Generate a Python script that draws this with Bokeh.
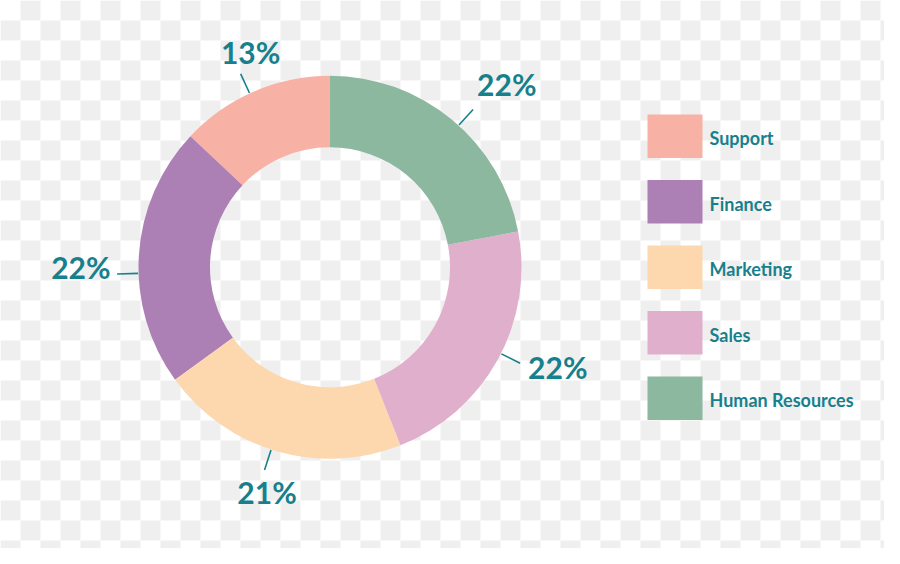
import numpy as np
from bokeh.plotting import figure
from bokeh.models import Range1d, ColumnDataSource
from bokeh.core.properties import value
from bokeh.embed import file_html
from bokeh.resources import INLINE

# ---- data ----
categories = ["Support", "Finance", "Marketing", "Sales", "Human Resources"]
shares = [13, 22, 21, 22, 22]
colors = ["#F8B2A5", "#AD80B5", "#FDD8AE", "#E0AFCB", "#8DB8A0"]
labels = [f"{v}%" for v in shares]

# ---- style / layout ----
TEAL = "#17808C"
FONT = "Lato"
IMG_H = 564
FIG_W, FIG_H = 884, 548
CX, CY_PX = 329.5, 266.8          # donut centre in image pixels
R_OUT, R_IN = 191.5, 120.0
LEAD_IN, LEAD_OUT = 192.0, 213.0
label_nudge_deg = [1.4, 5.4, -1.7, 2.0, -2.6]
label_offset_px = [(10, -3.5), (-1.5, -7), (2.5, -1), (3, 4), (-1, -8)]  # (dx, dy down)


def ydat(py):
    return IMG_H - py


p = figure(width=FIG_W, height=FIG_H,
           x_range=Range1d(0, FIG_W),
           y_range=Range1d(IMG_H - FIG_H, IMG_H),
           output_backend="svg", toolbar_location=None,
           x_axis_location=None, y_axis_location=None,
           min_border=0, background_fill_color="white",
           border_fill_color="white")
p.outline_line_color = None
p.grid.visible = False

# checkerboard background (transparency pattern)
sq = 20
ii, jj = np.meshgrid(np.arange(FIG_W // sq + 2), np.arange(IMG_H // sq + 2))
mask = (ii + jj) % 2 == 1
lefts = (ii[mask] * sq).astype(float)
tops = (jj[mask] * sq).astype(float)
p.quad(left=lefts, right=lefts + sq, top=ydat(tops), bottom=ydat(tops + sq),
       fill_color="#EFEFEF", line_color=None)

# donut (anticlockwise from 12 o'clock, in legend order)
frac = np.array(shares, dtype=float) / sum(shares)
ends = np.pi / 2 + 2 * np.pi * np.cumsum(frac)
starts = ends - 2 * np.pi * frac
src = ColumnDataSource(dict(start=starts, end=ends, color=colors))
cy = ydat(CY_PX)
p.annular_wedge(x=CX, y=cy, inner_radius=R_IN, outer_radius=R_OUT,
                start_angle="start", end_angle="end", color="color",
                line_color=None, source=src)

# leader lines and percentage labels
mids = (starts + ends) / 2 + np.radians(label_nudge_deg)
x0s, y0s, x1s, y1s, tx, ty, al, bl = [], [], [], [], [], [], [], []
pad = 5
for a, (ox, oy) in zip(mids, label_offset_px):
    c, s = np.cos(a), np.sin(a)
    x0s.append(CX + LEAD_IN * c); y0s.append(cy + LEAD_IN * s)
    ex, ey = CX + LEAD_OUT * c, cy + LEAD_OUT * s
    x1s.append(ex); y1s.append(ey)
    if c > 0.6:
        align, dx = "left", pad
    elif c < -0.6:
        align, dx = "right", -pad
    else:
        align, dx = "center", 0
    if s > 0.6:
        base, dy = "bottom", 0
    elif s < -0.6:
        base, dy = "top", -pad
    else:
        base, dy = "middle", 0
    tx.append(ex + dx + ox); ty.append(ey + dy - oy); al.append(align); bl.append(base)

p.segment(x0=x0s, y0=y0s, x1=x1s, y1=y1s, line_color=TEAL, line_width=1.6)
lab_src = ColumnDataSource(dict(x=tx, y=ty, t=labels, a=al, b=bl))
p.text(x="x", y="y", text="t", text_align="a", text_baseline="b",
       text_font=value(FONT), text_font_style="bold",
       text_font_size="30px", text_color=TEAL, source=lab_src)

# legend
LEG_X, LEG_Y0, LEG_DY = 647, 114, 65.5
BOX_W, BOX_H = 55, 43.5
n = len(categories)
btop = np.array([LEG_Y0 + i * LEG_DY for i in range(n)])
p.quad(left=LEG_X, right=LEG_X + BOX_W, top=ydat(btop), bottom=ydat(btop + BOX_H),
       fill_color=colors, line_color=None)
p.text(x=LEG_X + BOX_W + 7, y=ydat(btop + BOX_H / 2 + 2), text=categories,
       text_align="left", text_baseline="middle",
       text_font=value(FONT), text_font_style="bold",
       text_font_size="18px", text_color=TEAL)

open("out.html", "w").write(file_html(p, INLINE))
